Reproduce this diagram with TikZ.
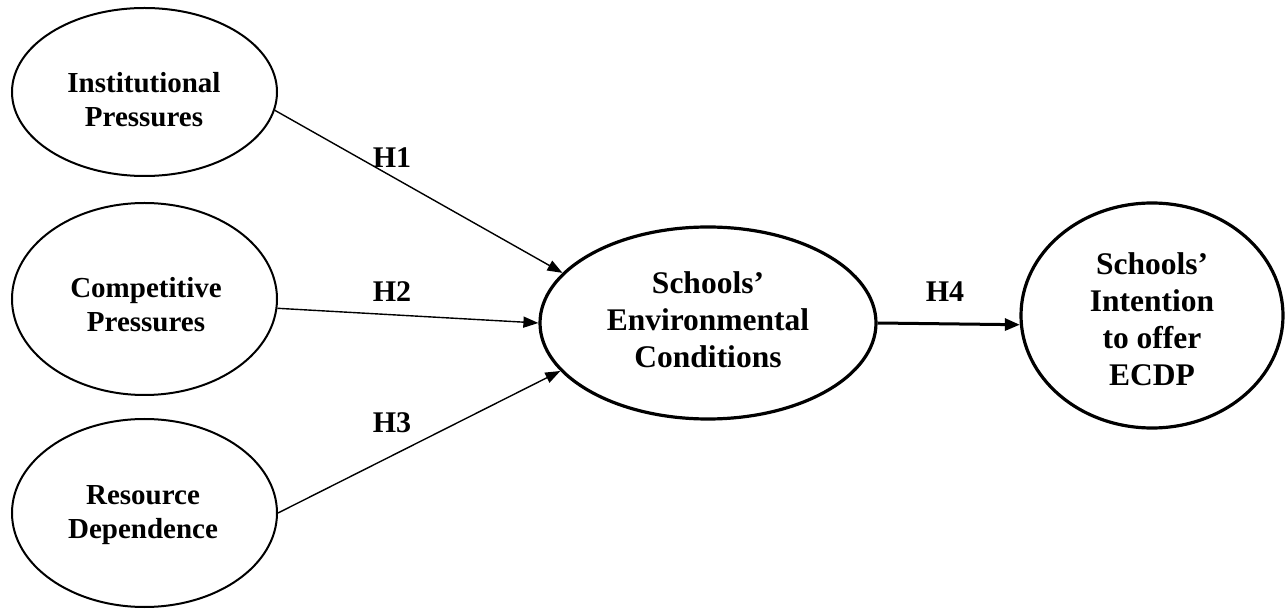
\documentclass[tikz,border=0pt]{standalone}
\usepackage{fontspec}
\setmainfont{Liberation Serif}
\usetikzlibrary{shapes.geometric,arrows.meta}
\begin{document}
\begin{tikzpicture}[x=1pt,y=-1pt,
  construct/.style={ellipse,draw,line width=2pt,inner sep=0pt},
  keyconstruct/.style={ellipse,draw,line width=3.2pt,inner sep=0pt},
  smalltext/.style={font=\fontsize{29}{34}\selectfont\bfseries,align=center,inner sep=0pt},
  bigtext/.style={font=\fontsize{31.5}{37}\selectfont\bfseries,align=center,inner sep=0pt},
  hyp/.style={font=\fontsize{30}{34}\selectfont\bfseries,inner sep=0pt,anchor=base},
  link/.style={line width=1.4pt,-{Triangle[length=15pt,width=11pt]}},
  strong/.style={line width=3pt,-{Triangle[length=15pt,width=12pt]}}
]
\useasboundingbox (0,0) rectangle (1286,609);

% antecedent constructs
\node[construct,minimum width=265pt,minimum height=168pt] (inst) at (144.5,92) {};
\node[construct,minimum width=265pt,minimum height=192pt] (comp) at (144.5,299) {};
\node[construct,minimum width=265pt,minimum height=188pt] (res) at (144.5,513) {};
\node[smalltext] (instT) at (144,100) {Institutional\\Pressures};
\node[smalltext] (compT) at (146,305) {Competitive\\Pressures};
\node[smalltext] (resT) at (143,515) {Resource\\Dependence};

% mediator and outcome
\node[keyconstruct,minimum width=336pt,minimum height=192pt] (env) at (708,323) {};
\node[keyconstruct,minimum width=262pt,minimum height=225pt] (int) at (1152,315.5) {};
\node[bigtext] (envT) at (708,320) {Schools’\\Environmental\\Conditions};
\node[bigtext] (intT) at (1152,319) {Schools’\\Intention\\to offer\\ECDP};

% hypothesised paths
\draw[link] (inst.-8.9) -- (env.161.8);
\draw[link] (comp.-4.3) -- (env.180);
\draw[link] (res.-0.9) -- (env.198.5);
\draw[strong] (env.-0.7) -- (int.184);

\node[hyp] (h1) at (392,168) {H1};
\node[hyp] (h2) at (392,302) {H2};
\node[hyp] (h3) at (392,433) {H3};
\node[hyp] (h4) at (945,302) {H4};
\end{tikzpicture}
\end{document}
